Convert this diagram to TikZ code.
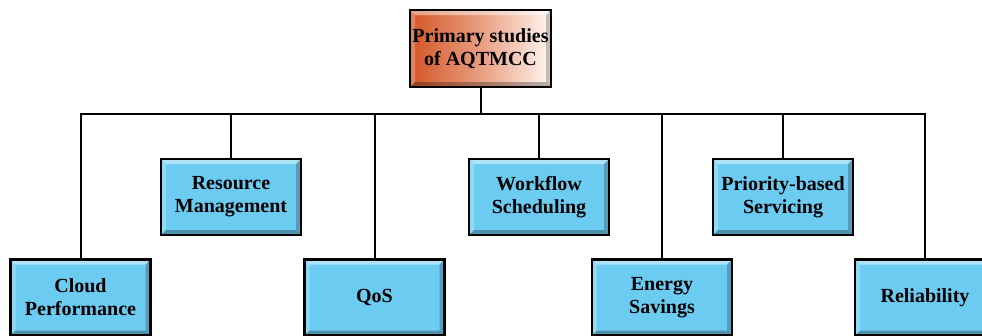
\documentclass[tikz,border=0pt]{standalone}
\usepackage{fontspec}
\setmainfont{Liberation Serif}
\usetikzlibrary{calc}
\definecolor{boxblue}{RGB}{108,203,241}
\definecolor{bevlight}{RGB}{170,228,250}
\definecolor{bevdark}{RGB}{72,160,200}
\definecolor{rootorange}{RGB}{212,86,38}
\definecolor{rootpale}{RGB}{255,246,240}
\tikzset{
  x=1pt, y=-1pt,
  bevel/.style={
    path picture={
      \coordinate (nw) at (path picture bounding box.north west);
      \coordinate (ne) at (path picture bounding box.north east);
      \coordinate (sw) at (path picture bounding box.south west);
      \coordinate (se) at (path picture bounding box.south east);
      \fill[white, opacity=0.45] (nw) -- (ne) -- ($(ne)+(-5pt,-5pt)$) -- ($(nw)+(5pt,-5pt)$) -- cycle;
      \fill[white, opacity=0.25] (nw) -- (sw) -- ($(sw)+(5pt,5pt)$) -- ($(nw)+(5pt,-5pt)$) -- cycle;
      \fill[black, opacity=0.22] (ne) -- (se) -- ($(se)+(-5pt,5pt)$) -- ($(ne)+(-5pt,-5pt)$) -- cycle;
      \fill[black, opacity=0.28] (sw) -- (se) -- ($(se)+(-5pt,5pt)$) -- ($(sw)+(5pt,5pt)$) -- cycle;
    }},
  topicbox/.style={
    draw=black, line width=2.2pt, fill=boxblue, bevel,
    minimum width=140pt, minimum height=76pt, inner sep=2pt,
    align=center, font=\bfseries\fontsize{20}{23}\selectfont},
  rootbox/.style={topicbox, left color=rootorange, right color=rootpale,
    middle color=rootorange!55!rootpale, minimum width=141pt, minimum height=77pt},
  link/.style={draw=black, line width=2pt}
}
\begin{document}
\begin{tikzpicture}
\useasboundingbox[fill=white] (0,0) rectangle (982,335);

% root of the tree
\node[rootbox] (root) at (480.5,48.5) {Primary studies\\of AQTMCC};

% upper row of topics
\node[topicbox] (res) at (231,197) {Resource\\Management};
\node[topicbox] (wfs) at (539,197) {Workflow\\Scheduling};
\node[topicbox] (pri) at (783,197) {Priority-based\\Servicing};

% lower row of topics
\node[topicbox] (cld) at (80.5,297.5) {Cloud\\Performance};
\node[topicbox] (qos) at (374.5,297.5) {QoS};
\node[topicbox] (eng) at (662,297.5) {Energy\\Savings};
\node[topicbox] (rel) at (925,297.5) {Reliability};

% horizontal bus joining all branches
\coordinate (bus) at (0,114);
\draw[link] (root.south) -- (root.south |- bus);
\draw[link, line cap=rect] (cld.north |- bus) -- (rel.north |- bus);
\foreach \n in {cld,res,qos,wfs,eng,pri,rel}
  \draw[link] (\n.north |- bus) -- (\n.north);

% redraw boxes above their connectors' ends
\end{tikzpicture}
\end{document}
